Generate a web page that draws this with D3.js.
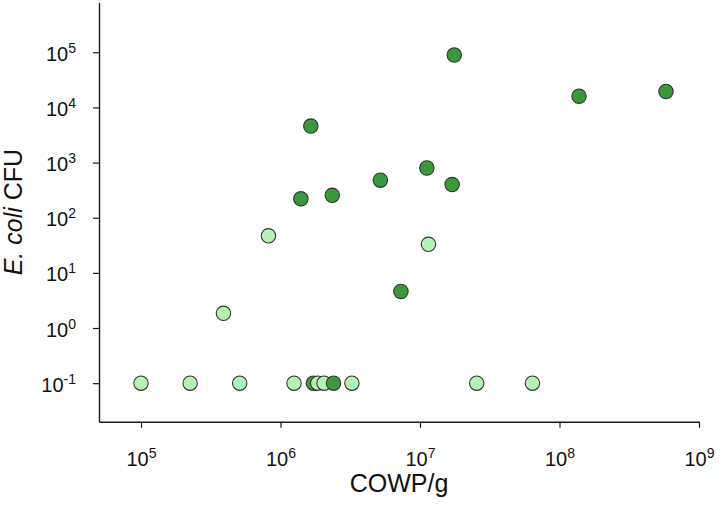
<!DOCTYPE html>
<html>
<head>
<meta charset="utf-8">
<script src="https://cdn.jsdelivr.net/npm/d3@7"></script>
<style>
  html, body { margin: 0; padding: 0; background: #fff; }
  svg { display: block; font-family: "Liberation Sans", Arial, sans-serif; }
</style>
</head>
<body>
<svg id="chart" width="720" height="512"></svg>
<script>
// ---- data ----
const cowpPerG = [1.0e5, 2.25e5, 5.1e5, 1.25e6, 3.9e5, 8.2e5, 1.4e6, 1.65e6, 2.35e6,
                  1.72e6, 1.85e6, 2.05e6, 2.4e6, 3.25e6, 5.2e6, 7.3e6, 1.12e7, 1.15e7,
                  1.7e7, 1.76e7, 2.55e7, 6.4e7, 1.38e8, 5.8e8];
const ecoliCFU = [0.1, 0.1, 0.1, 0.1, 1.85, 47, 220, 4600, 255,
                  0.1, 0.1, 0.1, 0.1, 0.1, 480, 4.6, 800, 33,
                  400, 89000, 0.1, 0.1, 16000, 19500];
const sampleGroup = ["neg", "neg", "neg", "neg", "neg", "neg", "pos", "pos", "pos",
                     "pos", "neg", "neg", "pos", "neg", "pos", "pos", "pos", "neg",
                     "pos", "pos", "neg", "neg", "pos", "pos"];
const xTickExponents = [5, 6, 7, 8, 9];
const yTickExponents = [-1, 0, 1, 2, 3, 4, 5];
const xTitle = "COWP/g";
const yTitleItalic = "E. coli";
const yTitleRest = " CFU";

// ---- layout ----
const svg = d3.select("#chart");
const plotLeft = 99, plotRight = 699, plotTop = 2.5, plotBottom = 421.7;
const colors = { pos: "#3a9a3a", neg: "#b6f2b6" };

const x = d3.scaleLog().domain([5e4, 1e9]).range([plotLeft, plotRight]);
const y = d3.scaleLog().domain([0.02, 8e5]).range([plotBottom, plotTop]);

// axes
const xAxis = d3.axisBottom(x).tickValues(xTickExponents.map(e => Math.pow(10, e)))
  .tickSize(6).tickSizeOuter(0).tickFormat("");
const yAxis = d3.axisLeft(y).tickValues(yTickExponents.map(e => Math.pow(10, e)))
  .tickSize(6).tickSizeOuter(0).tickFormat("");

const gx = svg.append("g").attr("transform", `translate(0,${plotBottom})`).call(xAxis);
const gy = svg.append("g").attr("transform", `translate(${plotLeft},0)`).call(yAxis);
[gx, gy].forEach(g => {
  g.select(".domain").attr("stroke", "#1a1a1a").attr("stroke-width", 1.4);
  g.selectAll(".tick line").attr("stroke", "#1a1a1a").attr("stroke-width", 1.2);
});

// tick labels with superscripts
gx.selectAll(".tick").each(function(d, i) {
  const t = d3.select(this).append("text")
    .attr("y", 44).attr("text-anchor", "middle")
    .attr("fill", "#111").attr("font-size", 20);
  t.append("tspan").text("10");
  t.append("tspan").attr("font-size", 14).attr("dy", -8).text(String(xTickExponents[i]));
});
gy.selectAll(".tick").each(function(d, i) {
  const t = d3.select(this).append("text")
    .attr("x", -23).attr("y", 8).attr("text-anchor", "end")
    .attr("fill", "#111").attr("font-size", 20);
  t.append("tspan").text("10");
  t.append("tspan").attr("font-size", 14).attr("dy", -8).text(String(yTickExponents[i]));
});

// titles
svg.append("text")
  .attr("x", (plotLeft + plotRight) / 2).attr("y", 492)
  .attr("text-anchor", "middle").attr("font-size", 25).attr("fill", "#111")
  .text(xTitle);
const yt = svg.append("text")
  .attr("transform", `translate(22,${(plotTop + plotBottom) / 2}) rotate(-90)`)
  .attr("text-anchor", "middle").attr("font-size", 25).attr("fill", "#111");
yt.append("tspan").attr("font-style", "italic").text(yTitleItalic);
yt.append("tspan").text(yTitleRest);

// points
const pts = cowpPerG.map((v, i) => ({ x: v, y: ecoliCFU[i], g: sampleGroup[i] }));
svg.append("g").selectAll("circle").data(pts).join("circle")
  .attr("cx", d => x(d.x)).attr("cy", d => y(d.y)).attr("r", 7.2)
  .attr("fill", d => colors[d.g]).attr("stroke", "#333").attr("stroke-width", 1.1);
</script>
</body>
</html>
